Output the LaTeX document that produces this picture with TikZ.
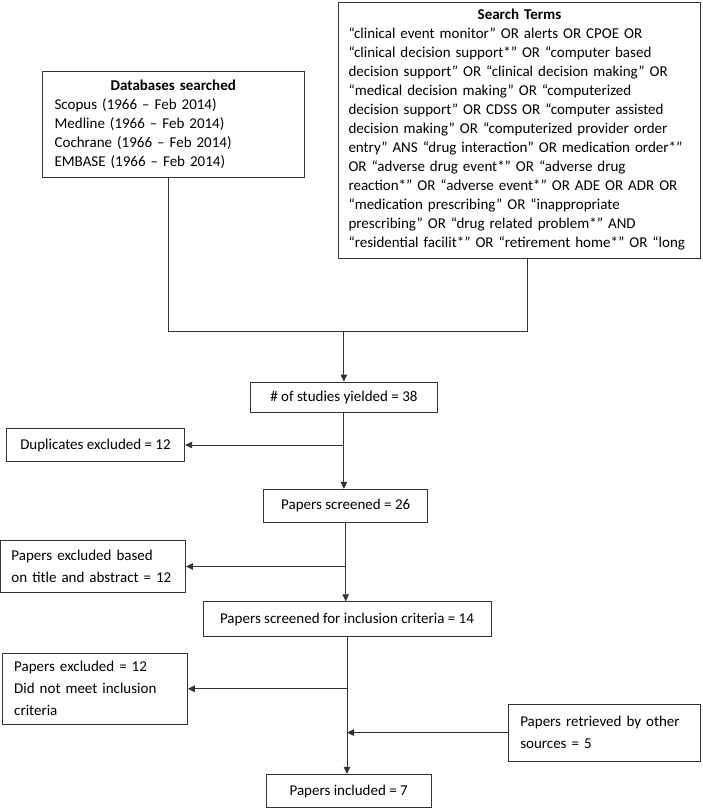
\documentclass[tikz,border=0pt]{standalone}
\usepackage{fontspec}
\setmainfont{Carlito}
\usetikzlibrary{arrows.meta}
\begin{document}
\begin{tikzpicture}[x=1pt,y=-1pt,
  box/.style={draw=black!80, line width=0.9pt, inner xsep=12pt, inner ysep=0pt,
    font=\fontsize{15}{19}\selectfont},
  lbox/.style={box, align=left, font=\fontsize{15}{22}\selectfont},
  arr/.style={-{Triangle[length=7pt,width=6.5pt]}, line width=0.9pt, draw=black!80},
  ln/.style={line width=0.9pt, draw=black!80}]
\useasboundingbox (0,0) rectangle (702,809);

\node[box, minimum width=261.4pt, minimum height=106pt, text width=237.4pt, align=left] (db) at (173.3,124)
 {\makebox[\hsize]{\bfseries Databases searched}\\
  Scopus (1966 – Feb 2014)\\
  Medline (1966 – Feb 2014)\\
  Cochrane (1966 – Feb 2014)\\
  EMBASE (1966 – Feb 2014)};

\node[box, inner xsep=10pt, minimum width=362pt, minimum height=256pt, text width=342pt, align=left] (st) at (519.5,130)
 {\makebox[\hsize]{\bfseries Search Terms}\\
  “clinical event monitor” OR alerts OR CPOE OR\\
  “clinical decision support*” OR “computer based\\
  decision support” OR “clinical decision making” OR\\
  “medical decision making” OR “computerized\\
  decision support” OR CDSS OR “computer assisted\\
  decision making” OR “computerized provider order\\
  entry” ANS “drug interaction” OR medication order*”\\
  OR “adverse drug event*” OR “adverse drug\\
  reaction*” OR “adverse event*” OR ADE OR ADR OR\\
  “medication prescribing” OR “inappropriate\\
  prescribing” OR “drug related problem*” AND\\
  “residential facilit*” OR “retirement home*” OR “long};

\node[box, minimum width=187.7pt, minimum height=30pt] (y38) at (343.9,397) {\# of studies yielded = 38};
\node[box, minimum width=178.4pt, minimum height=33.7pt] (dup) at (95.5,445) {Duplicates excluded = 12};
\node[box, minimum width=164pt, minimum height=33pt] (ps) at (345.7,505.8) {Papers screened = 26};
\node[lbox, minimum width=185pt, minimum height=51.6pt, text width=163pt, inner xsep=11pt] (peb) at (93,566.5)
 {Papers excluded based\\on title and abstract = 12};
\node[box, minimum width=288pt, minimum height=34.6pt] (psi) at (347,619) {Papers screened for inclusion criteria = 14};
\node[lbox, minimum width=185.2pt, minimum height=71pt, text width=161.2pt] (pe) at (94.8,688.8)
 {Papers excluded = 12\\Did not meet inclusion\\criteria};
\node[lbox, minimum width=192.5pt, minimum height=56.7pt, text width=168.5pt] (pr) at (604.5,732.6)
 {Papers retrieved by other\\sources = 5};
\node[box, minimum width=164.6pt, minimum height=33.4pt] (pi) at (348.7,791) {Papers included = 7};

\coordinate (jl) at (168,331);
\coordinate (jr) at (527,331);
\coordinate (jm) at (343.9,331);

\draw[ln] (db.south -| jl) -- (jl) -- (jr) -- (st.south -| jr);
\draw[arr] (jm) -- (y38.north);
\draw[arr] (y38.south) -- (y38.south |- ps.north);
\draw[arr] (y38.south |- dup.east) -- (dup.east);
\draw[arr] (ps.south) -- (ps.south |- psi.north);
\draw[arr] (ps.south |- peb.east) -- (peb.east);
\draw[arr] (psi.south) -- (psi.south |- pi.north);
\draw[arr] (psi.south |- pe.east) -- (pe.east);
\draw[arr] (pr.west) -- (psi.south |- pr.west);
\end{tikzpicture}
\end{document}
